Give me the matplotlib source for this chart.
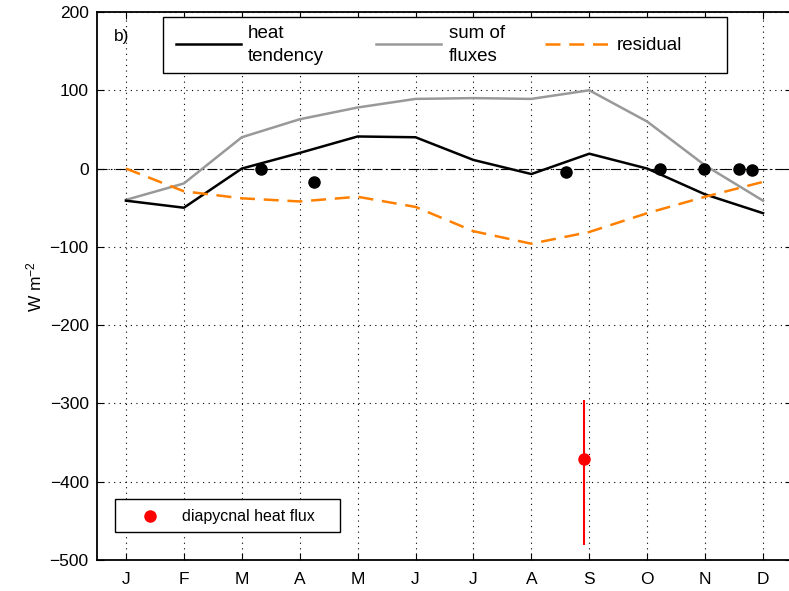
import matplotlib
matplotlib.use("Agg")
import matplotlib.pyplot as plt
from matplotlib.patches import Rectangle
from matplotlib.lines import Line2D
import numpy as np

plt.rcParams['font.family'] = ['Liberation Sans', 'DejaVu Sans']
plt.rcParams['mathtext.fontset'] = 'custom'
plt.rcParams['mathtext.rm'] = 'Liberation Sans'
plt.rcParams['mathtext.it'] = 'Liberation Sans'

# ---- data ----
months = list(range(1, 13))
month_labels = ['J', 'F', 'M', 'A', 'M', 'J', 'J', 'A', 'S', 'O', 'N', 'D']
heat_tendency = [-41, -50, 0, 20, 41, 40, 11, -7, 19, 0, -33, -57]
sum_of_fluxes = [-40, -19, 40, 63, 78, 89, 90, 89, 100, 60, 4, -41]
residual = [0, -29, -38, -42, -36, -49, -80, -96, -81, -57, -36, -17]
dot_months = [3.33, 4.25, 8.59, 10.22, 10.98, 11.58, 11.81]
dot_values = [-1, -17, -4, -1, 0, -1, -2]
diapycnal_month = [8.91]
diapycnal_value = [-371]
diapycnal_low = [-481]
diapycnal_high = [-296]
yticks = [-500, -400, -300, -200, -100, 0, 100, 200]
legend_labels = ['heat\ntendency', 'sum of\nfluxes', 'residual']
legend2_label = 'diapycnal heat flux'

W, H = 789, 591
AX_L, AX_R, AX_T, AX_B = 97, 792, 12, 560
AW, AH = AX_R - AX_L, AX_B - AX_T
fig = plt.figure(figsize=(W / 100, H / 100), dpi=100)
ax = fig.add_axes([AX_L / W, 1 - AX_B / H, AW / W, AH / H])


def px(x, y):
    """pixel (top-left origin) -> axes fraction"""
    return (x - AX_L) / AW, 1 - (y - AX_T) / AH


ax.set_xlim(0.5, 12.5)
ax.set_ylim(-500, 200)

ax.set_xticks(months)
ax.set_xticklabels(month_labels)
ax.set_yticks(yticks)
ax.grid(True, color='black', linestyle=(0, (1, 4)), linewidth=0.8)
ax.set_axisbelow(True)

# zero line
ax.axhline(0, color='black', linestyle=(0, (9, 3, 1.5, 3)), linewidth=0.8, zorder=1)

styles = [dict(color='black', lw=1.8, zorder=3),
          dict(color='#999999', lw=1.8, zorder=2),
          dict(color='#ff8000', lw=1.8, dashes=(6, 3.5), zorder=3)]
for vals, st in zip([heat_tendency, sum_of_fluxes, residual], styles):
    ax.plot(months, vals, **st)

ax.plot(dot_months, dot_values, 'o', color='black', ms=8, zorder=4)

ax.vlines(diapycnal_month, diapycnal_low, diapycnal_high, color='red', lw=1.5, zorder=4)
ax.plot(diapycnal_month, diapycnal_value, 'o', color='red', ms=8, zorder=5)

ax.tick_params(direction='in', length=5, width=0.8, labelsize=12.5, top=True, right=True,
               colors='black')
ax.tick_params(axis='x', pad=9)
ax.tick_params(axis='y', pad=6)
for s in ax.spines.values():
    s.set_linewidth(1.3)

ax.set_ylabel('W m$^{-2}$', fontsize=12.5, labelpad=4)

x0, y0 = px(114, 29)
ax.text(x0, y0, 'b)', transform=ax.transAxes, fontsize=12.5, va='top', ha='left')

# ---- top legend (drawn by hand to match the layout) ----
bx0, by1 = px(163, 17)
bx1, by0 = px(727, 73)
ax.add_patch(Rectangle((bx0, by0), bx1 - bx0, by1 - by0, transform=ax.transAxes,
                       facecolor='white', edgecolor='black', lw=1.0, zorder=10))
handle_x = [(176, 241), (376, 441), (545, 608)]
text_x = [248, 449, 617]
for (hx0, hx1), tx, lab, st in zip(handle_x, text_x, legend_labels, styles):
    a0, ly = px(hx0, 44)
    a1, _ = px(hx1, 44)
    st2 = {k: v for k, v in st.items() if k != 'zorder'}
    ax.add_line(Line2D([a0, a1], [ly, ly], transform=ax.transAxes, zorder=11, **st2))
    t0, ty = px(tx, 45)
    ax.text(t0, ty, lab, transform=ax.transAxes, fontsize=13.5, va='center', ha='left',
            linespacing=1.45, zorder=11)

# ---- bottom legend ----
bx0, by1 = px(115, 499)
bx1, by0 = px(340, 532)
ax.add_patch(Rectangle((bx0, by0), bx1 - bx0, by1 - by0, transform=ax.transAxes,
                       facecolor='white', edgecolor='black', lw=1.0, zorder=10))
mx, my = px(150, 516)
ax.add_line(Line2D([mx], [my], marker='o', color='red', ms=8, linestyle='none',
                   transform=ax.transAxes, zorder=11))
t0, ty = px(182, 516)
ax.text(t0, ty, legend2_label, transform=ax.transAxes, fontsize=11.5, va='center',
        ha='left', zorder=11)

fig.savefig('out.png', dpi=100)
